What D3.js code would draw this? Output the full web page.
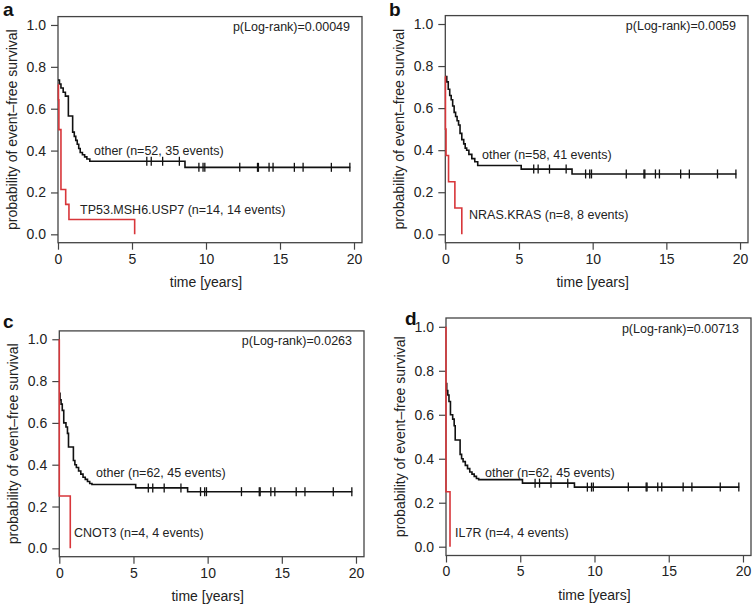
<!DOCTYPE html>
<html>
<head>
<meta charset="utf-8">
<script src="https://cdn.jsdelivr.net/npm/d3@7"></script>
<style>
  html, body { margin: 0; padding: 0; background: #fff; }
  svg { display: block; font-family: "Liberation Sans", Arial, Helvetica, sans-serif; }
</style>
</head>
<body>
<script>
const X_TICKS = [0, 5, 10, 15, 20];
const Y_TICKS = [0, 0.2, 0.4, 0.6, 0.8, 1.0];

// censored follow-up times shared by the "other" group (years)
const CENSOR_TIMES = [6.0, 6.3, 7.07, 8.2, 9.52, 9.8, 9.92, 12.28, 13.48, 13.54, 14.26, 14.53, 15.97, 16.56, 18.47, 19.72];
const OTHER_END = 19.75;

// panel a
const otherA_time = [0, 0.1, 0.2, 0.35, 0.5, 0.7, 0.99, 1.1, 1.2, 1.3, 1.4, 1.5, 1.65, 1.8, 1.95, 2.15, 8.58];
const otherA_surv = [0.737, 0.718, 0.699, 0.679, 0.66, 0.565, 0.488, 0.468, 0.449, 0.43, 0.41, 0.391, 0.38, 0.37, 0.36, 0.349, 0.32];
const groupA_time = [0, 0.03, 0.06, 0.2, 0.52, 0.74, 5.18];
const groupA_surv = [0.714, 0.643, 0.5, 0.214, 0.143, 0.071, 0];

// panel b
const otherB_time = [0, 0.1, 0.2, 0.3, 0.4, 0.5, 0.6, 0.7, 0.8, 0.9, 1.0, 1.12, 1.25, 1.35, 1.45, 1.6, 1.8, 2.0, 2.2, 5.15, 8.6];
const otherB_surv = [0.75, 0.725, 0.69, 0.66, 0.64, 0.61, 0.58, 0.56, 0.54, 0.52, 0.48, 0.45, 0.43, 0.41, 0.40, 0.38, 0.36, 0.345, 0.327, 0.31, 0.287];
const groupB_time = [0, 0.01, 0.05, 0.22, 0.65, 1.12];
const groupB_surv = [0.75, 0.5, 0.375, 0.25, 0.125, 0];

// panels c and d share the same "other" group
const otherCD_time = [0, 0.05, 0.12, 0.2, 0.3, 0.45, 0.55, 0.62, 0.95, 1.05, 1.15, 1.3, 1.45, 1.6, 1.75, 1.9, 2.05, 2.2, 5.15, 8.65];
const otherCD_surv = [0.742, 0.71, 0.69, 0.66, 0.60, 0.58, 0.55, 0.485, 0.42, 0.40, 0.387, 0.37, 0.355, 0.34, 0.33, 0.32, 0.31, 0.305, 0.289, 0.271];
const groupC_time = [0, 0, 0.74];
const groupC_surv = [1.0, 0.25, 0];
const groupD_time = [0, 0, 0.27];
const groupD_surv = [1.0, 0.25, 0];

const LETTERS = ["a", "b", "c", "d"];
const P_VALUES = ["p(Log-rank)=0.00049", "p(Log-rank)=0.0059", "p(Log-rank)=0.0263", "p(Log-rank)=0.00713"];
const OTHER_LABELS = ["other (n=52, 35 events)", "other (n=58, 41 events)", "other (n=62, 45 events)", "other (n=62, 45 events)"];
const GROUP_LABELS = ["TP53.MSH6.USP7 (n=14, 14 events)", "NRAS.KRAS (n=8, 8 events)", "CNOT3 (n=4, 4 events)", "IL7R (n=4, 4 events)"];

const W = 753, H = 604;
const RED = "#d8363a";
const INK = "#222";

const panels = [
  { box: { l: 58, r: 362, t: 16.6, b: 242.7 }, letter: [3, 16], other: [otherA_time, otherA_surv], group: [groupA_time, groupA_surv],
    otherLab: [94, 151], groupLab: [80, 210] },
  { box: { l: 445.3, r: 748, t: 15.6, b: 242.7 }, letter: [389, 16], other: [otherB_time, otherB_surv], group: [groupB_time, groupB_surv],
    otherLab: [482, 155], groupLab: [469, 215] },
  { box: { l: 59.3, r: 364, t: 330.9, b: 556.7 }, letter: [3, 328], other: [otherCD_time, otherCD_surv], group: [groupC_time, groupC_surv],
    otherLab: [96, 473], groupLab: [74, 533] },
  { box: { l: 446, r: 751, t: 318, b: 555.5 }, letter: [405, 325], other: [otherCD_time, otherCD_surv], group: [groupD_time, groupD_surv],
    otherLab: [485, 473], groupLab: [455, 533] }
];

const svg = d3.select("body").append("svg")
  .attr("width", W)
  .attr("height", H);

panels.forEach((p, i) => {
  const x = d3.scaleLinear().domain([0, OTHER_END * 1.04]).range([p.box.l, p.box.r]);
  const y = d3.scaleLinear().domain([-0.04, 1.04]).range([p.box.b, p.box.t]);
  const g = svg.append("g");

  // y axis, ticks outward
  g.append("g")
    .attr("transform", `translate(${p.box.l},0)`)
    .call(d3.axisLeft(y).tickValues(Y_TICKS).tickFormat(d3.format(".1f")).tickSize(7).tickPadding(5))
    .call(ax => ax.select(".domain").remove())
    .call(ax => ax.selectAll(".tick line").attr("stroke", "#444").attr("stroke-width", 1.2))
    .call(ax => ax.selectAll("text").attr("font-size", 14).attr("fill", INK).attr("font-family", null));

  // x axis
  g.append("g")
    .attr("transform", `translate(0,${p.box.b})`)
    .call(d3.axisBottom(x).tickValues(X_TICKS).tickSize(7).tickPadding(4))
    .call(ax => ax.select(".domain").remove())
    .call(ax => ax.selectAll(".tick line").attr("stroke", "#444").attr("stroke-width", 1.2))
    .call(ax => ax.selectAll("text").attr("font-size", 14).attr("fill", INK).attr("font-family", null));

  // plot box
  g.append("rect")
    .attr("x", p.box.l).attr("y", p.box.t)
    .attr("width", p.box.r - p.box.l).attr("height", p.box.b - p.box.t)
    .attr("fill", "none").attr("stroke", "#444").attr("stroke-width", 1.3);

  // axis titles
  g.append("text")
    .attr("x", (x(0) + x(20)) / 2).attr("y", p.box.b + 39)
    .attr("text-anchor", "middle").attr("dominant-baseline", "central")
    .attr("font-size", 14).attr("fill", INK)
    .text("time [years]");

  g.append("text")
    .attr("transform", `translate(${p.box.l - 46},${(p.box.t + p.box.b) / 2}) rotate(-90)`)
    .attr("text-anchor", "middle").attr("dominant-baseline", "central")
    .attr("font-size", 14).attr("fill", INK)
    .text("probability of event\u2013free survival");

  // panel letter
  g.append("text")
    .attr("x", p.letter[0]).attr("y", p.letter[1])
    .attr("font-size", 19).attr("font-weight", "bold").attr("fill", "#111")
    .text(LETTERS[i]);

  // p-value
  g.append("text")
    .attr("x", p.box.r - 12).attr("y", y(1.0) + 2)
    .attr("text-anchor", "end").attr("dominant-baseline", "central")
    .attr("font-size", 12.5).attr("fill", INK)
    .text(P_VALUES[i]);

  const line = d3.line()
    .x(d => x(d[0]))
    .y(d => y(d[1]))
    .curve(d3.curveStepAfter);

  const [ot, os] = p.other;
  const otherPts = ot.map((t, k) => [t, os[k]]);
  otherPts.push([OTHER_END, os[os.length - 1]]);

  const [gt, gs] = p.group;
  const groupPts = gt.map((t, k) => [t, gs[k]]);

  g.append("path")
    .datum(otherPts)
    .attr("fill", "none").attr("stroke", "#111").attr("stroke-width", 1.6)
    .attr("d", line);

  // censor marks on the "other" curve
  const bis = d3.bisector(d => d).right;
  g.selectAll(null)
    .data(CENSOR_TIMES)
    .join("line")
      .attr("x1", d => x(d)).attr("x2", d => x(d))
      .attr("y1", d => y(os[bis(ot, d) - 1]) - 4.5)
      .attr("y2", d => y(os[bis(ot, d) - 1]) + 4.5)
      .attr("stroke", "#111").attr("stroke-width", 1.3);

  g.append("path")
    .datum(groupPts)
    .attr("fill", "none").attr("stroke", RED).attr("stroke-width", 1.6)
    .attr("d", line);

  // curve labels
  g.append("text")
    .attr("x", p.otherLab[0]).attr("y", p.otherLab[1])
    .attr("dominant-baseline", "central")
    .attr("font-size", 12.5).attr("fill", INK)
    .text(OTHER_LABELS[i]);

  g.append("text")
    .attr("x", p.groupLab[0]).attr("y", p.groupLab[1])
    .attr("dominant-baseline", "central")
    .attr("font-size", 12.5).attr("fill", INK)
    .text(GROUP_LABELS[i]);
});
</script>
</body>
</html>
